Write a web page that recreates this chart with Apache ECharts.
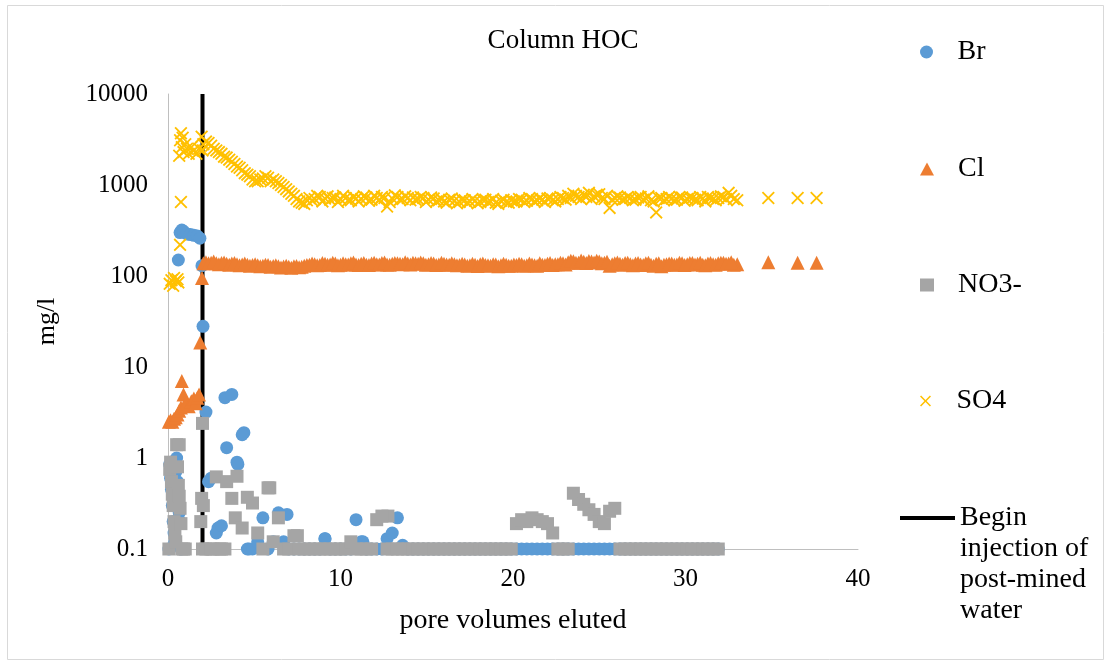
<!DOCTYPE html>
<html><head><meta charset="utf-8">
<script src="https://cdn.jsdelivr.net/npm/echarts@6/dist/echarts.min.js"></script>
<style>html,body{margin:0;padding:0;background:#fff}#c{width:1111px;height:664px}</style>
</head><body><div id="c"></div>
<script>
// pore volumes of the regularly spaced samples after injection start (set A)
const poreVolumes = [
 2.2,2.5,2.8,3.1,3.4,3.7,4.0,4.3,4.6,4.9,
 5.2,5.5,5.8,6.1,6.4,6.7,7.0,7.3,7.6,7.9,
 8.2,8.5,8.8,9.1,9.4,9.7,10.0,10.3,10.6,10.9,
 11.2,11.5,11.8,12.1,12.4,12.7,13.0,13.3,13.6,13.9,
 14.2,14.5,14.8,15.1,15.4,15.7,16.0,16.3,16.6,16.9,
 17.2,17.5,17.8,18.1,18.4,18.7,19.0,19.3,19.6,19.9,
 20.2,20.5,20.8,21.1,21.4,21.7,22.0,22.3,22.6,22.9,
 23.2,23.5,23.8,24.1,24.4,24.7,25.0,25.3,25.6,25.9,
 26.2,26.5,26.8,27.1,27.4,27.7,28.0,28.3,28.6,28.9,
 29.2,29.5,29.8,30.1,30.4,30.7,31.0,31.3,31.6,31.9,
 32.2,32.5,32.8
];
// interleaved samples (set B)
const poreVolumesB = [
 2.35,2.65,2.95,3.25,3.55,3.85,4.15,4.45,4.75,5.05,
 5.35,5.65,5.95,6.25,6.55,6.85,7.15,7.45,7.75,8.05,
 8.35,8.65,8.95,9.25,9.55,9.85,10.15,10.45,10.75,11.05,
 11.35,11.65,11.95,12.25,12.55,12.85,13.15,13.45,13.75,14.05,
 14.35,14.65,14.95,15.25,15.55,15.85,16.15,16.45,16.75,17.05,
 17.35,17.65,17.95,18.25,18.55,18.85,19.15,19.45,19.75,20.05,
 20.35,20.65,20.95,21.25,21.55,21.85,22.15,22.45,22.75,23.05,
 23.35,23.65,23.95,24.25,24.55,24.85,25.15,25.45,25.75,26.05,
 26.35,26.65,26.95,27.25,27.55,27.85,28.15,28.45,28.75,29.05,
 29.35,29.65,29.95,30.25,30.55,30.85,31.15,31.45,31.75,32.05,
 32.35,32.65
];
const brMain = [
 3.2,0.6,0.15,0.18,1.3,5.0,0.9,1.8,0.1,0.1,
 0.12,0.22,0.1,0.12,0.25,0.12,0.1,0.1,0.1,0.1,
 0.1,0.1,0.1,0.13,0.1,0.1,0.1,0.1,0.1,0.21,
 0.12,0.1,0.1,0.1,0.1,0.13,0.15,0.22,0.11,0.1,
 0.1,0.1,0.1,0.1,0.1,0.1,0.1,0.1,0.1,0.1,
 0.1,0.1,0.1,0.1,0.1,0.1,0.1,0.1,0.1,0.1,
 0.1,0.1,0.1,0.1,0.1,0.1,0.1,0.1,0.1,0.1,
 0.1,0.1,0.1,0.1,0.1,0.1,0.1,0.1,0.1,0.1,
 0.1,0.1,0.1,0.1,0.1,0.1,0.1,0.1,0.1,0.1,
 0.1,0.1,0.1,0.1,0.1,0.1,0.1,0.1,0.1,0.1,
 null,null,null
];
const clMain = [
 142,140,138,139,136,137,135,134,133,132,
 131,130,132,129,128,127,126,128,125,130,
 133,135,132,136,134,137,133,135,138,134,
 136,133,137,135,139,134,136,138,135,137,
 140,136,138,135,137,134,136,133,135,132,
 134,131,133,135,132,130,134,131,133,130,
 132,135,131,134,130,133,136,132,135,138,
 142,145,140,143,146,141,144,140,130,138,
 136,139,135,137,134,138,133,136,128,135,
 137,134,138,135,139,136,133,137,135,138,
 140,137,133
];
const clB = [
 138,144,135,141,133,139,131,137,130,135,
 128,133,126,131,124,130,123,129,126,132,
 137,131,139,133,140,131,138,134,141,132,
 139,132,140,134,141,133,139,136,142,134,
 138,141,133,139,132,140,134,138,131,136,
 130,136,129,137,131,135,128,136,130,134,
 136,130,137,131,138,132,139,135,140,134,
 147,140,148,139,144,147,138,143,135,141,
 133,140,131,139,132,140,130,138,133,137,
 133,140,132,139,134,140,131,139,133,140,
 136,142
];
const no3Main = [
 0.1,0.1,0.62,0.1,0.55,0.36,0.63,0.17,0.37,0.32,
 0.15,0.1,0.47,0.12,0.22,0.1,0.1,0.14,0.1,0.1,
 0.1,0.1,0.1,0.1,0.1,0.1,0.1,0.1,0.12,0.1,
 0.1,0.1,0.1,0.21,0.23,0.1,0.1,0.1,0.1,0.1,
 0.1,0.1,0.1,0.1,0.1,0.1,0.1,0.1,0.1,0.1,
 0.1,0.1,0.1,0.1,0.1,0.1,0.1,0.1,0.1,0.1,
 0.19,0.21,0.2,0.22,0.21,0.2,0.19,0.15,0.1,0.1,
 0.1,0.41,0.35,0.31,0.27,0.24,0.2,0.19,0.26,0.28,
 0.1,0.1,0.1,0.1,0.1,0.1,0.1,0.1,0.1,0.1,
 0.1,0.1,0.1,0.1,0.1,0.1,0.1,0.1,0.1,0.1,
 null,null,null
];
const so4Main = [
 3000,2700,2400,2200,2000,1800,1600,1450,1300,1150,
 1100,1180,1200,1150,1050,950,850,760,660,620,
 720,700,740,710,690,730,700,720,680,710,
 700,730,690,720,740,580,710,740,700,720,
 730,700,720,690,710,680,660,690,670,650,
 680,660,670,650,690,660,640,670,650,680,
 660,690,670,700,680,690,710,680,700,720,
 760,800,740,780,820,750,790,700,560,720,
 730,700,720,690,740,710,680,500,720,700,
 710,690,730,700,720,680,710,740,700,720,
 740,820,700
];
const so4B = [
 2900,2500,2300,2050,1900,1700,1550,1350,1250,1100,
 1150,1250,1100,1100,1000,900,800,700,640,680,
 680,760,660,750,720,650,760,680,740,660,
 750,670,760,680,720,650,770,690,750,680,
 690,740,650,730,660,700,640,710,630,690,
 640,700,630,690,650,700,620,690,640,660,
 700,650,720,660,710,650,720,660,740,690,
 720,760,700,740,700,780,720,760,690,750,
 690,740,680,730,690,750,660,720,680,740,
 680,740,670,730,690,740,660,720,680,750,
 700,760
];
// irregular samples (before injection, near it, and the tail)
const brExtra = [
 [0.05,0.1],[0.1,0.85],[0.15,0.6],[0.2,0.45],[0.25,0.3],[0.3,0.2],[0.35,0.15],[0.4,0.12],
 [0.45,0.7],[0.5,1.0],[0.55,0.55],[0.6,0.35],[0.65,0.25],[0.7,0.2],[0.75,0.1],
 [0.6,150],[0.7,300],[0.8,320],[0.9,310],[1.1,290],[1.3,285],[1.5,280],[1.7,275],[1.85,260],
 [1.97,130],[2.03,28],[2.35,0.55],[2.9,0.17],[3.3,4.6],[4.05,0.85],[4.4,1.9],[4.7,0.1],
 [6.9,0.24],[9.1,0.13],[11.3,0.12]
];
const clExtra = [
 [0.05,2.5],[0.15,2.6],[0.25,2.5],[0.35,2.7],[0.45,2.8],[0.55,3.0],[0.65,3.3],[0.75,3.6],
 [0.8,7.0],[0.9,5.0],[0.95,3.8],[1.05,4.0],[1.2,3.7],[1.35,4.2],[1.5,4.5],[1.6,4.0],
 [1.7,4.6],[1.8,5.0],[1.87,18.6],[1.97,95],[2.05,138],
 [33.0,135],[34.8,142],[36.5,140],[37.6,140]
];
const no3Extra = [
 [0.05,0.1],[0.1,0.75],[0.15,0.9],[0.2,0.55],[0.25,0.4],[0.3,0.3],[0.35,0.2],[0.4,0.15],
 [0.45,0.12],[0.5,1.4],[0.55,0.8],[0.6,0.5],[0.65,0.38],[0.7,0.28],[0.75,0.19],[0.8,0.1],
 [0.65,1.4],[0.9,0.1],[1.0,0.1],[1.9,0.2],[1.95,0.36],[2.0,2.4],[2.05,0.3],[2.0,0.1],
 [2.6,0.1],[3.0,0.1],[3.3,0.1],[3.9,0.22],[5.9,0.47],[7.5,0.14],[12.75,0.23]
];
const so4Extra = [
 [0.1,82],[0.2,90],[0.3,78],[0.35,95],[0.45,88],[0.55,92],[0.6,85],[0.7,220],[0.75,650],
 [0.65,2100],[0.7,3100],[0.75,3700],[0.8,2600],[0.85,3300],[0.9,2300],[1.0,2800],[1.1,2500],
 [1.2,2200],[1.35,2600],[1.5,2400],[1.65,2200],[1.8,2500],[1.95,3400],[2.0,2400],[2.05,2800],
 [33.0,680],[34.8,720],[36.5,720],[37.6,720]
];
const injectionStart = [[2,0.1],[2,10000]];
const yTicks = [0.1,1,10,100,1000,10000];

const FONT = "'Liberation Serif','Times New Roman',serif";
function combine(extra, ...sets){
  const out = extra.slice();
  sets.forEach(([xs, ys]) => xs.forEach((x,i)=>{ if (ys[i] != null) out.push([x, ys[i]]); }));
  return out;
}
const xMark = 'path://M0,10L10,0L50,40L90,0L100,10L60,50L100,90L90,100L50,60L10,100L0,90L40,50Z';

const chart = echarts.init(document.getElementById('c'), null, {renderer:'canvas'});
const legendBase = {orient:'vertical', padding:0, itemWidth:14, itemHeight:13, left:920,
  textStyle:{fontFamily:FONT, fontSize:28, color:'#000', lineHeight:31, padding:[0,0,0,19]},
  selectedMode:false};
chart.setOption({
  animation:false,
  backgroundColor:'#fff',
  title:{text:'Column HOC', left:563, top:27, textAlign:'center', padding:0,
    textStyle:{fontFamily:FONT, fontSize:27, fontWeight:'normal', color:'#000'}},
  graphic:[{type:'rect', shape:{x:7.5,y:5.5,width:1096,height:654}, silent:true,
    style:{fill:'none', stroke:'#D9D9D9', lineWidth:1}}],
  grid:{left:168, right:253, top:94, bottom:115},
  legend:[
    Object.assign({}, legendBase, {data:['Br'], top:36.5}),
    Object.assign({}, legendBase, {data:['Cl'], top:153.5}),
    Object.assign({}, legendBase, {data:['NO3-'], top:269.5}),
    Object.assign({}, legendBase, {data:['SO4'], top:385.5, itemHeight:11}),
    Object.assign({}, legendBase, {data:[{name:'Begin injection of post-mined water', icon:'rect'}],
      left:900, top:409.5, itemWidth:55, itemHeight:4,
      textStyle:{fontFamily:FONT, fontSize:28, color:'#000', lineHeight:31, padding:[0,0,0,0]},
      formatter:()=>'\n\n\nBegin\ninjection of\npost-mined\nwater'})
  ],
  xAxis:{type:'value', min:0, max:40, interval:10,
    axisLine:{onZero:false, lineStyle:{color:'#BFBFBF', width:1}},
    axisTick:{show:false}, splitLine:{show:false},
    axisLabel:{fontFamily:FONT, fontSize:25, color:'#000', margin:18},
    name:'pore volumes eluted', nameLocation:'middle', nameGap:58,
    nameTextStyle:{fontFamily:FONT, fontSize:28, color:'#000'}},
  yAxis:{type:'log', logBase:10, min:yTicks[0], max:yTicks[yTicks.length-1],
    axisLine:{show:true, lineStyle:{color:'#BFBFBF', width:1}},
    axisTick:{show:false}, splitLine:{show:false}, minorSplitLine:{show:false},
    axisLabel:{fontFamily:FONT, fontSize:25, color:'#000', margin:20,
      formatter:v=>String(Number(Number(v).toPrecision(4)))},
    name:'mg/l', nameLocation:'middle', nameGap:108, nameRotate:90,
    nameTextStyle:{fontFamily:FONT, fontSize:26, color:'#000'}},
  series:[
    {name:'Begin injection of post-mined water', type:'line', data:injectionStart,
      symbol:'none', z:1, lineStyle:{color:'#000', width:4}, itemStyle:{color:'#000'}, silent:true},
    {name:'Br', type:'scatter', symbol:'circle', symbolSize:13, symbolKeepAspect:true, z:2,
      itemStyle:{color:'#5B9BD5', opacity:1}, data:combine(brExtra, [poreVolumes, brMain])},
    {name:'Cl', type:'scatter', symbol:'triangle', symbolSize:14, symbolKeepAspect:true, z:3,
      itemStyle:{color:'#ED7D31', opacity:1}, data:combine(clExtra, [poreVolumes, clMain], [poreVolumesB, clB])},
    {name:'NO3-', type:'scatter', symbol:'rect', symbolSize:13, symbolKeepAspect:true, z:4,
      itemStyle:{color:'#A5A5A5', opacity:1}, data:combine(no3Extra, [poreVolumes, no3Main])},
    {name:'SO4', type:'scatter', symbol:xMark, symbolSize:13, symbolKeepAspect:true, z:5,
      itemStyle:{color:'#FFC000', opacity:1}, data:combine(so4Extra, [poreVolumes, so4Main], [poreVolumesB, so4B])}
  ]
});
</script></body></html>
